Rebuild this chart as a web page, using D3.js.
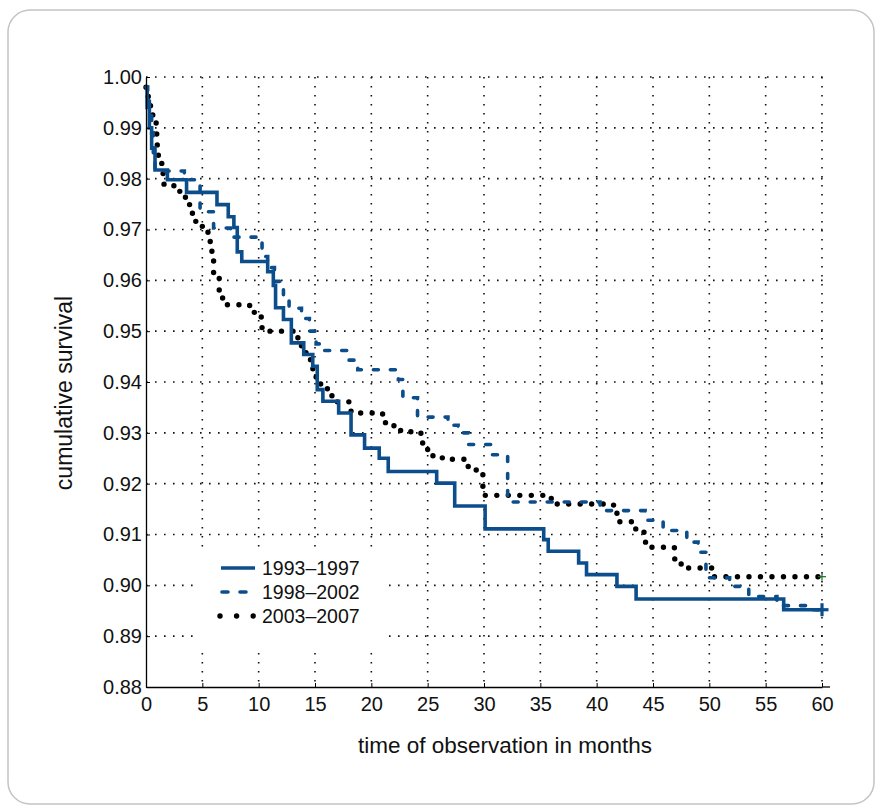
<!DOCTYPE html>
<html>
<head>
<meta charset="utf-8">
<script src="https://cdn.jsdelivr.net/npm/d3@7"></script>
<style>
  body { margin: 0; background: #fff; }
  text { font-family: "Liberation Sans", Arial, sans-serif; fill: #111; }
</style>
</head>
<body>
<div id="chart"></div>
<script>
// step points (months, cumulative survival)
var t1993 = [0, 0.1, 0.3, 0.5, 0.8, 1.9, 3.6, 6.3, 7.3, 7.8, 8.1, 8.5, 10.8, 11.3, 11.5, 12.2, 12.9, 14.0, 14.8, 15.2, 15.7, 17.1, 18.2, 19.4, 20.7, 21.5, 25.8, 27.4, 30.1, 35.3, 35.7, 38.4, 39.1, 41.8, 43.5, 56.6, 60]
var s1993 = [0.998, 0.994, 0.990, 0.986, 0.9817, 0.9798, 0.9773, 0.9749, 0.9725, 0.9704, 0.9656, 0.9637, 0.9617, 0.9590, 0.9546, 0.9523, 0.9477, 0.9454, 0.9431, 0.9385, 0.9362, 0.9339, 0.9296, 0.9270, 0.9250, 0.9224, 0.9201, 0.9156, 0.9111, 0.9090, 0.9067, 0.9044, 0.9021, 0.8998, 0.8973, 0.8952, 0.8952]

var t1998 = [0, 0.15, 0.3, 0.5, 0.65, 0.8, 3.4, 4.8, 6.0, 7.5, 10.3, 10.8, 11.4, 12.2, 12.7, 13.8, 14.5, 15.1, 15.6, 17.9, 18.8, 22.4, 22.8, 24.1, 26.8, 27.7, 28.6, 30.6, 32.1, 40.3, 44.3, 45.9, 48.0, 49.0, 49.7, 51.8, 53.5, 56.0, 59.1, 60]
var s1998 = [0.998, 0.9955, 0.993, 0.989, 0.985, 0.9815, 0.9798, 0.9735, 0.9703, 0.9685, 0.9647, 0.9625, 0.9598, 0.9570, 0.9545, 0.9525, 0.9500, 0.9475, 0.9462, 0.9443, 0.9424, 0.9405, 0.9369, 0.9331, 0.9315, 0.9300, 0.9277, 0.9257, 0.9164, 0.9147, 0.9128, 0.9108, 0.9085, 0.9065, 0.9015, 0.8998, 0.8978, 0.8960, 0.8952, 0.8952]

var t2003 = [0, 0.2, 0.4, 0.6, 0.9, 1.0, 1.1, 1.4, 1.6, 3.0, 3.5, 4.0, 4.4, 5.0, 5.5, 5.7, 5.85, 6.0, 6.5, 6.8, 9.2, 10.0, 10.3, 13.3, 13.8, 14.2, 14.6, 15.1, 15.5, 16.1, 16.6, 18.2, 21.0, 21.8, 22.6, 24.4, 25.0, 26.3, 28.6, 29.9, 35.8, 36.5, 41.5, 41.8, 43.2, 44.2, 44.6, 46.9, 47.5, 50.3, 60]
var s2003 = [0.998, 0.9955, 0.9935, 0.9912, 0.9888, 0.986, 0.9833, 0.981, 0.9786, 0.9768, 0.9749, 0.9732, 0.9716, 0.9700, 0.9685, 0.9660, 0.9640, 0.9615, 0.9580, 0.9552, 0.9537, 0.9528, 0.9500, 0.9487, 0.9464, 0.9444, 0.9426, 0.9409, 0.9391, 0.9373, 0.9361, 0.9339, 0.9320, 0.9314, 0.9302, 0.9280, 0.9255, 0.9248, 0.9227, 0.9177, 0.9171, 0.9160, 0.9150, 0.9125, 0.9111, 0.9085, 0.9075, 0.9052, 0.9034, 0.9017, 0.9017]

var seriesNames = ["1993\u20131997", "1998\u20132002", "2003\u20132007"]
var xTicks = [0, 5, 10, 15, 20, 25, 30, 35, 40, 45, 50, 55, 60]
var yTicks = [0.88, 0.89, 0.90, 0.91, 0.92, 0.93, 0.94, 0.95, 0.96, 0.97, 0.98, 0.99, 1.00]

var blue = "#0c4e8b"

var svg = d3.select("#chart").append("svg")
  .attr("width", 880)
  .attr("height", 808)

// card frame
svg.append("rect")
  .attr("x", 8).attr("y", 10)
  .attr("width", 866).attr("height", 794)
  .attr("rx", 22)
  .attr("fill", "white")
  .attr("stroke", "#c4c4c4")
  .attr("stroke-width", 1.5)

var x = d3.scaleLinear().domain([0, 60]).range([146, 822])
var y = d3.scaleLinear().domain([0.88, 1.00]).range([687, 77])

// dotted grid
svg.selectAll("vgrid")
  .data(xTicks.slice(1))
  .enter()
  .append("line")
  .attr("x1", d => x(d)).attr("x2", d => x(d))
  .attr("y1", y(1.00)).attr("y2", y(0.88))
  .attr("stroke", "#111")
  .attr("stroke-width", 1.6)
  .attr("stroke-dasharray", "1.6,7.4")

svg.selectAll("hgrid")
  .data(yTicks.slice(1))
  .enter()
  .append("line")
  .attr("x1", x(0)).attr("x2", 830)
  .attr("y1", d => y(d)).attr("y2", d => y(d))
  .attr("stroke", "#111")
  .attr("stroke-width", 1.6)
  .attr("stroke-dasharray", "1.6,7.4")

// legend background hides the grid
svg.append("rect")
  .attr("x", 194).attr("y", 550)
  .attr("width", 188).attr("height", 96)
  .attr("fill", "white")

var line = d3.line()
  .x(d => x(d[0]))
  .y(d => y(d[1]))
  .curve(d3.curveStepAfter)

var d1 = d3.zip(t1993, s1993)
var d2 = d3.zip(t1998, s1998)
var d3s = d3.zip(t2003, s2003)

svg.append("path")
  .attr("d", line(d3s))
  .attr("fill", "none")
  .attr("stroke", "#000")
  .attr("stroke-width", 5.4)
  .attr("stroke-linecap", "round")
  .attr("stroke-dasharray", "0,11.5")

svg.append("path")
  .attr("d", line(d1))
  .attr("fill", "none")
  .attr("stroke", blue)
  .attr("stroke-width", 3.6)

svg.append("path")
  .attr("d", line(d2))
  .attr("fill", "none")
  .attr("stroke", blue)
  .attr("stroke-width", 3.6)
  .attr("stroke-linecap", "round")
  .attr("stroke-dasharray", "5,12")

// censor marks at 60 months
var ends = [[60, s1993[s1993.length - 1], blue, 13, 3.2], [60, s2003[s2003.length - 1], "#1d6b1d", 8, 1.2]]
ends.forEach(function (e) {
  svg.append("line")
    .attr("x1", x(e[0]) - e[3] / 2).attr("x2", x(e[0]) + e[3] / 2)
    .attr("y1", y(e[1])).attr("y2", y(e[1]))
    .attr("stroke", e[2]).attr("stroke-width", e[4])
  svg.append("line")
    .attr("x1", x(e[0])).attr("x2", x(e[0]))
    .attr("y1", y(e[1]) - e[3] / 2).attr("y2", y(e[1]) + e[3] / 2)
    .attr("stroke", e[2]).attr("stroke-width", e[4])
})

// axes
var xAxis = d3.axisBottom(x).tickValues(xTicks).tickSize(-4).tickSizeOuter(0).tickPadding(8)
  .tickFormat(d3.format("d"))
var yAxis = d3.axisLeft(y).tickValues(yTicks).tickSize(-4).tickSizeOuter(0).tickPadding(4)
  .tickFormat(d3.format(".2f"))

var gx = svg.append("g").attr("transform", "translate(0," + y(0.88) + ")").call(xAxis)
var gy = svg.append("g").attr("transform", "translate(" + x(0) + ",0)").call(yAxis)

svg.append("line")
  .attr("x1", x(60)).attr("x2", 830)
  .attr("y1", y(0.88)).attr("y2", y(0.88))
  .attr("stroke", "#000").attr("stroke-width", 1.3)

;[gx, gy].forEach(function (g) {
  g.select(".domain").attr("stroke", "#000").attr("stroke-width", 1.3)
  g.selectAll(".tick line").attr("stroke", "#000").attr("stroke-width", 1)
  g.selectAll(".tick text")
    .attr("font-size", 20)
    .attr("fill", "#111")
    .style("font-family", "'Liberation Sans', Arial, sans-serif")
})
gx.selectAll(".tick text").attr("dy", "0.8em")

svg.append("text")
  .text("time of observation in months")
  .attr("x", 505)
  .attr("y", 753)
  .attr("font-size", 22.5)
  .attr("text-anchor", "middle")

svg.append("text")
  .text("cumulative survival")
  .attr("transform", "translate(72,393) rotate(-90)")
  .attr("font-size", 23)
  .attr("text-anchor", "middle")

// legend
var ly = [568, 592, 616]
svg.append("line")
  .attr("x1", 221).attr("x2", 255)
  .attr("y1", ly[0]).attr("y2", ly[0])
  .attr("stroke", blue).attr("stroke-width", 3.6)
svg.append("line")
  .attr("x1", 222).attr("x2", 250)
  .attr("y1", ly[1]).attr("y2", ly[1])
  .attr("stroke", blue).attr("stroke-width", 3.6)
  .attr("stroke-linecap", "round")
  .attr("stroke-dasharray", "6,12")
svg.append("line")
  .attr("x1", 220).attr("x2", 254)
  .attr("y1", ly[2]).attr("y2", ly[2])
  .attr("stroke", "#000").attr("stroke-width", 5.4)
  .attr("stroke-linecap", "round")
  .attr("stroke-dasharray", "0,16.6")

svg.selectAll("legtext")
  .data(seriesNames)
  .enter()
  .append("text")
  .text(d => d)
  .attr("x", 262)
  .attr("y", (d, i) => ly[i])
  .attr("dy", "0.36em")
  .attr("font-size", 19.5)
</script>
</body>
</html>
